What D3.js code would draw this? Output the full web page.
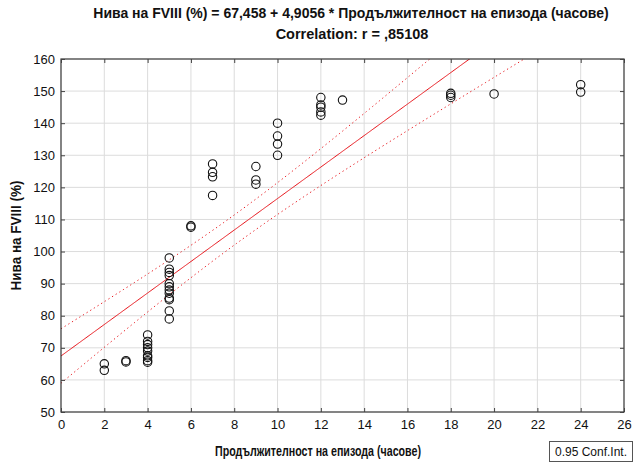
<!DOCTYPE html>
<html>
<head>
<meta charset="utf-8">
<script src="https://cdn.jsdelivr.net/npm/d3@7/dist/d3.min.js"></script>
<style>
  html, body { margin: 0; padding: 0; background: #fff; }
  svg { display: block; }
</style>
</head>
<body>
<svg id="chart" width="636" height="464"></svg>
<script>
// Episode duration (hours) and the FVIII level measured for each episode
const durationHours = [
  2, 2,
  3, 3,
  4, 4, 4, 4, 4, 4, 4, 4, 4,
  5, 5, 5, 5, 5, 5, 5, 5, 5, 5, 5, 5,
  6, 6,
  7, 7, 7, 7,
  9, 9, 9,
  10, 10, 10, 10,
  12, 12, 12, 12, 12,
  13,
  18, 18, 18,
  20,
  24, 24
];
const fviiiLevel = [
  65, 63,
  66, 65.6,
  74, 72, 71, 70, 69, 67.5, 67, 66, 65.5,
  98, 94.5, 93.5, 92.5, 90, 89, 88, 87, 85.5, 85, 81.5, 79,
  108, 107.6,
  127.3, 124.7, 123.3, 117.5,
  126.5, 122.3, 121,
  140, 136, 133.5, 130,
  148, 145.7, 145, 143.5, 142.5,
  147.2,
  149.3, 148.7, 148,
  149.1,
  152, 149.7
];

// Fitted line as reported in the heading
const intercept = 67.458;
const slope = 4.9056;
const correlation = ",85108";
const confLevel = "0.95";

const xTicks = d3.range(0, 27, 2);
const yTicks = d3.range(50, 161, 10);

const titleLine1 = "Нива на FVIII (%) = 67,458 + 4,9056 * Продължителност на епизода (часове)";
const titleLine2 = "Correlation: r = " + correlation;
const xLabel = "Продължителност на епизода (часове)";
const yLabel = "Нива на FVIII (%)";

const svg = d3.select("#chart");
const plot = { left: 61, right: 624, top: 59, bottom: 412 };

const x = d3.scaleLinear().domain([0, 26]).range([plot.left, plot.right]);
const y = d3.scaleLinear().domain([50, 160]).range([plot.bottom, plot.top]);

const sans = "'Liberation Sans', Arial, sans-serif";

// Grid
const grid = svg.append("g");
grid.selectAll("line.gx").data(xTicks.slice(1, -1)).join("line")
  .attr("x1", d => x(d)).attr("x2", d => x(d))
  .attr("y1", plot.top).attr("y2", plot.bottom)
  .attr("stroke", "#dcdcdc").attr("stroke-width", 1);
grid.selectAll("line.gy").data(yTicks.slice(1, -1)).join("line")
  .attr("x1", plot.left).attr("x2", plot.right)
  .attr("y1", d => y(d)).attr("y2", d => y(d))
  .attr("stroke", "#dcdcdc").attr("stroke-width", 1);

// Regression line and confidence band for the mean
const n = durationHours.length;
const xbar = d3.mean(durationHours);
const sxx = d3.sum(durationHours, v => (v - xbar) ** 2);
const sse = d3.sum(durationHours, (v, i) => (fviiiLevel[i] - (intercept + slope * v)) ** 2);
const s = Math.sqrt(sse / (n - 2));
const tCrit = 2.0106; // two-sided 95%, 48 df
const fit = v => intercept + slope * v;
const half = v => tCrit * s * Math.sqrt(1 / n + (v - xbar) ** 2 / sxx);

const xs = d3.range(0, 26.001, 0.05);
svg.append("clipPath").attr("id", "plotClip").append("rect")
  .attr("x", plot.left).attr("y", plot.top)
  .attr("width", plot.right - plot.left).attr("height", plot.bottom - plot.top);

const lines = svg.append("g").attr("clip-path", "url(#plotClip)");
const lineGen = f => d3.line().x(v => x(v)).y(v => y(f(v)))(xs);

lines.append("path").attr("d", lineGen(fit))
  .attr("fill", "none").attr("stroke", "#e8141a").attr("stroke-width", 1);
lines.append("path").attr("d", lineGen(v => fit(v) + half(v)))
  .attr("fill", "none").attr("stroke", "#e8141a").attr("stroke-width", 1)
  .attr("stroke-dasharray", "1.3,3");
lines.append("path").attr("d", lineGen(v => fit(v) - half(v)))
  .attr("fill", "none").attr("stroke", "#e8141a").attr("stroke-width", 1)
  .attr("stroke-dasharray", "1.3,3");

// Points
svg.append("g").selectAll("circle").data(durationHours).join("circle")
  .attr("cx", d => x(d))
  .attr("cy", (d, i) => y(fviiiLevel[i]))
  .attr("r", 4.2)
  .attr("fill", "none")
  .attr("stroke", "#111")
  .attr("stroke-width", 1.1);

// Frame with inward ticks
const frame = svg.append("g");
frame.append("rect")
  .attr("x", plot.left).attr("y", plot.top)
  .attr("width", plot.right - plot.left).attr("height", plot.bottom - plot.top)
  .attr("fill", "none").attr("stroke", "#333").attr("stroke-width", 1.2);

const bottomAxis = d3.axisBottom(x).tickValues(xTicks).tickSizeInner(-4).tickSizeOuter(0).tickPadding(8);
const leftAxis = d3.axisLeft(y).tickValues(yTicks).tickSizeInner(-4).tickSizeOuter(0).tickPadding(6);
const topAxis = d3.axisTop(x).tickValues(xTicks).tickSizeInner(-4).tickSizeOuter(0).tickFormat("");
const rightAxis = d3.axisRight(y).tickValues(yTicks).tickSizeInner(-4).tickSizeOuter(0).tickFormat("");

function styleAxis(g) {
  g.select(".domain").remove();
  g.selectAll(".tick line").attr("stroke", "#444");
  g.selectAll(".tick text").attr("fill", "#111")
    .style("font-family", sans).style("font-size", "13px");
}
svg.append("g").attr("transform", `translate(0,${plot.bottom})`).call(bottomAxis).call(styleAxis);
svg.append("g").attr("transform", `translate(${plot.left},0)`).call(leftAxis).call(styleAxis);
svg.append("g").attr("transform", `translate(0,${plot.top})`).call(topAxis).call(styleAxis);
svg.append("g").attr("transform", `translate(${plot.right},0)`).call(rightAxis).call(styleAxis);

// Titles
svg.append("text").attr("x", 351).attr("y", 18)
  .attr("text-anchor", "middle")
  .style("font-family", sans).style("font-weight", "bold").style("font-size", "14px")
  .attr("fill", "#111").text(titleLine1);
svg.append("text").attr("x", 352).attr("y", 39)
  .attr("text-anchor", "middle")
  .style("font-family", sans).style("font-weight", "bold").style("font-size", "14.5px")
  .attr("fill", "#111").text(titleLine2);

// Axis titles (condensed bold)
svg.append("text").attr("x", 318).attr("y", 456)
  .attr("text-anchor", "middle")
  .attr("textLength", 206).attr("lengthAdjust", "spacingAndGlyphs")
  .style("font-family", sans).style("font-weight", "bold").style("font-size", "14.5px")
  .attr("fill", "#111").text(xLabel);

svg.append("text")
  .attr("transform", `translate(21,${(plot.top + plot.bottom) / 2}) rotate(-90)`)
  .attr("text-anchor", "middle")
  .attr("textLength", 110).attr("lengthAdjust", "spacingAndGlyphs")
  .style("font-family", sans).style("font-weight", "bold").style("font-size", "14.5px")
  .attr("fill", "#111").text(yLabel);

// Confidence-interval legend box
const legend = svg.append("g").attr("transform", "translate(549,441)");
legend.append("rect").attr("x", 0.5).attr("y", 0.5).attr("width", 83).attr("height", 20)
  .attr("fill", "#fff").attr("stroke", "#555").attr("stroke-width", 1);
legend.append("text").attr("x", 42).attr("y", 15)
  .attr("text-anchor", "middle")
  .style("font-family", sans).style("font-size", "12px")
  .attr("fill", "#111").text(confLevel + " Conf.Int.");
</script>
</body>
</html>
